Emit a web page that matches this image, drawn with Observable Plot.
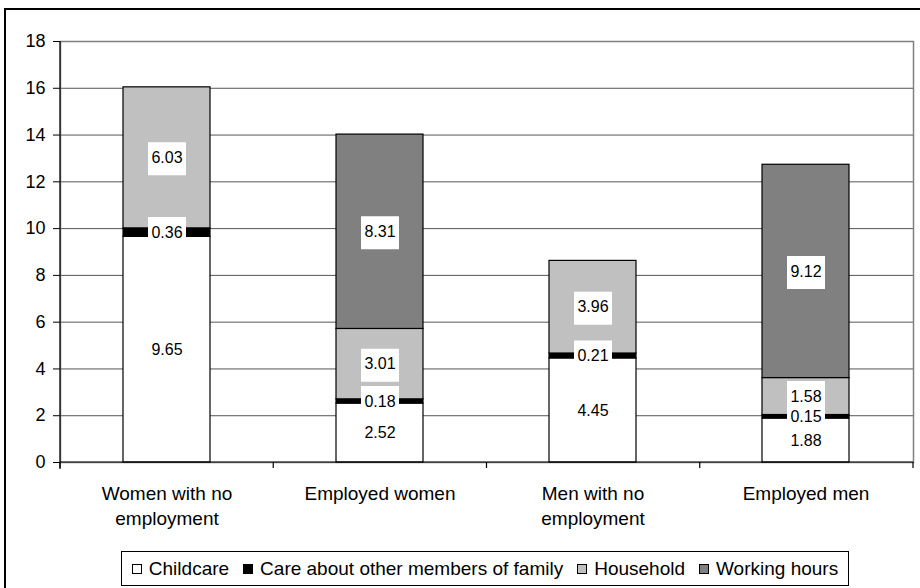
<!DOCTYPE html>
<html>
<head>
<meta charset="utf-8">
<script src="https://cdn.jsdelivr.net/npm/d3@7"></script>
<script src="https://cdn.jsdelivr.net/npm/@observablehq/plot@0.6"></script>
<style>
  html, body { margin: 0; padding: 0; background: #fff; overflow: hidden; }
  body { width: 920px; height: 588px; position: relative; font-family: "Liberation Sans", Arial, sans-serif; }
  #chart { position: absolute; left: 0; top: 0; }
  #legend {
    position: absolute; left: 121px; top: 551px; width: 728px; height: 35px;
    box-sizing: border-box; border: 1px solid #000; background: #fff;
    display: flex; align-items: center; justify-content: center; gap: 14px;
    font-size: 19px; color: #000;
  }
  #legend .item { display: flex; align-items: center; gap: 7px; white-space: nowrap; }
  #legend .sw { width: 10px; height: 10px; box-sizing: border-box; border: 1px solid #000; }
  #border {
    position: absolute; left: 4px; top: 8px; width: 2000px; height: 2000px;
    border: 2px solid #000; pointer-events: none;
  }
</style>
</head>
<body>
<div id="chart"></div>
<div id="legend"></div>
<div id="border"></div>
<script>
// Hours per day spent on each activity, by group
const groups = ["Women with no employment", "Employed women", "Men with no employment", "Employed men"];
const groupLabels = ["Women with no\nemployment", "Employed women", "Men with no\nemployment", "Employed men"];
const seriesNames = ["Childcare", "Care about other members of family", "Household", "Working hours"];
const seriesColors = ["#ffffff", "#000000", "#c0c0c0", "#808080"];

const childcare = [9.65, 2.52, 4.45, 1.88];
const familyCare = [0.36, 0.18, 0.21, 0.15];
const household = [6.03, 3.01, 3.96, 1.58];
const workingHours = [0, 8.31, 0, 9.12];

const yTicks = [0, 2, 4, 6, 8, 10, 12, 14, 16, 18];

// Long table, stacked bottom-to-top in series order
const seriesValues = [childcare, familyCare, household, workingHours];
const rows = [];
seriesValues.forEach((vals, s) => {
  vals.forEach((v, i) => {
    if (v > 0) rows.push({group: groups[i], series: seriesNames[s], value: v});
  });
});

const fmt = d3.format(".2f");
const font = '"Liberation Sans", Arial, sans-serif';

// White rectangle drawn behind each value label
const labelBox = {
  draw(context) { context.rect(-19, -16.5, 38, 33); }
};

// Axis lines and the category-boundary ticks along the bottom
function axisLines(index, scales, values, dims) {
  const left = dims.marginLeft;
  const right = dims.width - dims.marginRight;
  const y0 = scales.y(0);
  const yTop = scales.y(d3.max(yTicks));
  const step = (right - left) / groups.length;
  const g = d3.create("svg:g").attr("stroke", "#000").attr("stroke-width", 1.2).attr("fill", "none");
  g.append("line").attr("x1", left).attr("x2", left).attr("y1", yTop).attr("y2", y0 + 7);
  g.append("line").attr("x1", left).attr("x2", right).attr("y1", y0).attr("y2", y0);
  d3.range(groups.length + 1).forEach(i => {
    const x = left + i * step;
    g.append("line").attr("x1", x).attr("x2", x).attr("y1", y0).attr("y2", y0 + 6);
  });
  return g.node();
}

const chart = Plot.plot({
  width: 920,
  height: 545,
  marginLeft: 60,
  marginRight: 7,
  marginTop: 41,
  marginBottom: 83,
  style: {fontFamily: font, background: "transparent", color: "#000"},
  x: {domain: groups, paddingInner: 0.59, paddingOuter: 0.295, label: null},
  y: {domain: [0, 18], label: null},
  color: {domain: seriesNames, range: seriesColors},
  marks: [
    Plot.gridY(yTicks, {stroke: "#555", strokeOpacity: 1, strokeWidth: 1}),
    Plot.frame({stroke: "#808080", strokeWidth: 1.5}),
    Plot.barY(rows, {x: "group", y: "value", fill: "series", stroke: "#000", strokeWidth: 1.2}),
    axisLines,
    Plot.dot(rows, Plot.stackY({x: "group", y: "value", symbol: labelBox, fill: "#fff", stroke: null, dy: 1})),
    Plot.text(rows, Plot.stackY({x: "group", y: "value", text: d => fmt(d.value), fontSize: 16, fill: "#000"})),
    Plot.axisY(yTicks, {tickSize: 7, tickPadding: 8, fontSize: 18, tickFormat: d => String(d),
      stroke: "#000", label: null}),
    Plot.axisX({tickSize: 0, tickPadding: 19.5, fontSize: 19, lineHeight: 1.32, label: null,
      tickFormat: d => groupLabels[groups.indexOf(d)]})
  ]
});
document.getElementById("chart").appendChild(chart);

// Legend
const legend = d3.select("#legend");
seriesNames.forEach((name, i) => {
  const item = legend.append("div").attr("class", "item");
  item.append("div").attr("class", "sw").style("background", seriesColors[i]);
  item.append("span").text(name);
});
</script>
</body>
</html>
